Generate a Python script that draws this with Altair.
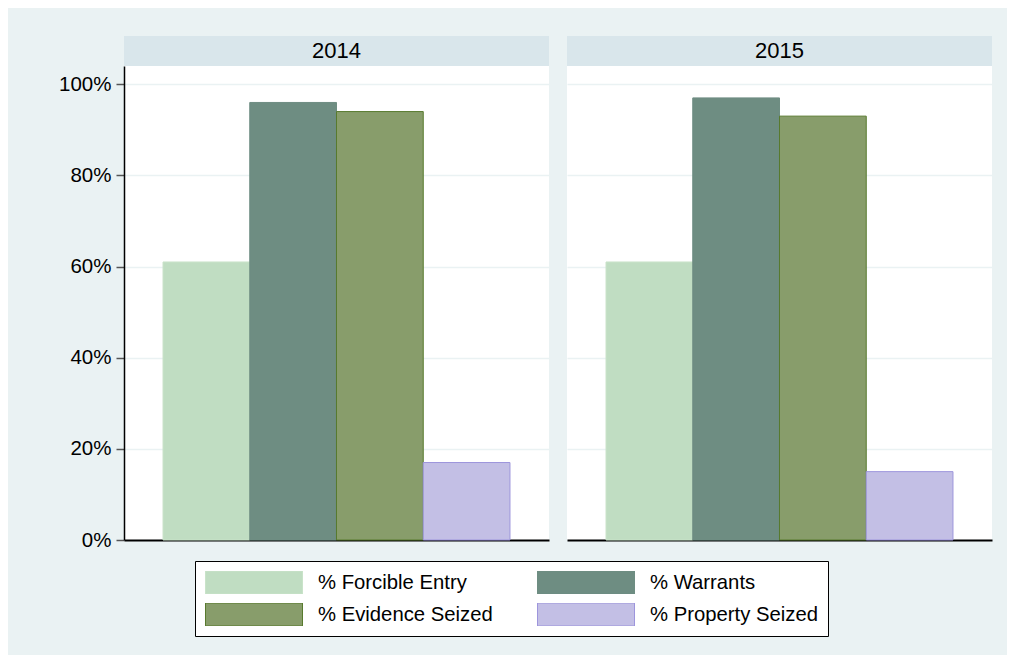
import altair as alt
import pandas as pd

years = ["2014", "2015"]
series = ["% Forcible Entry", "% Warrants", "% Evidence Seized", "% Property Seized"]
values_2014 = [61, 96, 94, 17]
values_2015 = [61, 97, 93, 15]

fills = ["#c0ddc2", "#6e8d82", "#889d6b", "#c3bfe5"]
strokes = ["#c9e3c9", "#6e8d82", "#587a2e", "#9d95dc"]

BG = "#eaf2f3"
HEADER = "#d9e6eb"
PW, PH = 425, 474
FONT = "Liberation Sans"

legend_shape = "M-1,-0.237L1,-0.237L1,0.237L-1,0.237Z"


def make_legend():
    return alt.Legend(
        orient="none",
        legendX=71,
        legendY=495,
        direction="horizontal",
        columns=2,
        title=None,
        symbolType=legend_shape,
        symbolSize=9409,
        symbolStrokeWidth=1,
        clipHeight=23,
        labelFontSize=20.3,
        labelFont=FONT,
        labelColor="black",
        labelOffset=15,
        labelLimit=400,
        fillColor="white",
        strokeColor="black",
        padding=10,
        rowPadding=9,
        columnPadding=44,
        gridAlign="all",
    )


def panel(year, vals, first):
    df = pd.DataFrame({"series": series, "value": vals, "year": year})
    hdr = pd.DataFrame({"year": [year]})
    yaxis = alt.Axis(
        values=[0, 20, 40, 60, 80, 100],
        labelExpr="datum.value + '%'",
        title=None,
        grid=True,
        gridColor=BG,
        gridWidth=1.5,
        domain=first,
        domainColor="black",
        domainWidth=1.5,
        ticks=first,
        tickSize=8,
        tickColor="#555555",
        tickWidth=1.5,
        labels=first,
        labelFontSize=20.5,
        labelFont=FONT,
        labelColor="black",
        labelPadding=5,
    )
    bars = alt.Chart(df).mark_bar(strokeWidth=1).encode(
        x=alt.X(
            "series:N",
            sort=series,
            scale=alt.Scale(paddingInner=0, paddingOuter=0.45),
            axis=alt.Axis(labels=False, ticks=False, title=None, grid=False,
                          domainColor="black", domainWidth=2),
        ),
        y=alt.Y("value:Q", scale=alt.Scale(domain=[0, 104], nice=False), axis=yaxis),
        fill=alt.Fill(
            "series:N",
            sort=series,
            scale=alt.Scale(domain=series, range=fills),
            legend=make_legend(),
        ),
        stroke=alt.Stroke(
            "series:N",
            sort=series,
            scale=alt.Scale(domain=series, range=strokes),
            legend=make_legend(),
        ),
    )
    band = alt.Chart(hdr).mark_rect(color=HEADER).encode(
        x=alt.value(0), x2=alt.value(PW), y=alt.value(-30), y2=alt.value(0)
    )
    label = alt.Chart(hdr).mark_text(fontSize=22, font=FONT, color="black", baseline="middle").encode(
        x=alt.value(PW / 2), y=alt.value(-15), text="year:N"
    )
    return alt.layer(band, bars, label).properties(width=PW, height=PH)


chart = alt.hconcat(
    panel(years[0], values_2014, True),
    panel(years[1], values_2015, False),
    spacing=18,
).properties(
    background=BG,
    padding={"left": 50, "top": 28, "right": 15, "bottom": 18},
).configure_view(stroke=None, fill="white")

chart.save("out.html", embed_options={"renderer": "svg", "actions": False})
